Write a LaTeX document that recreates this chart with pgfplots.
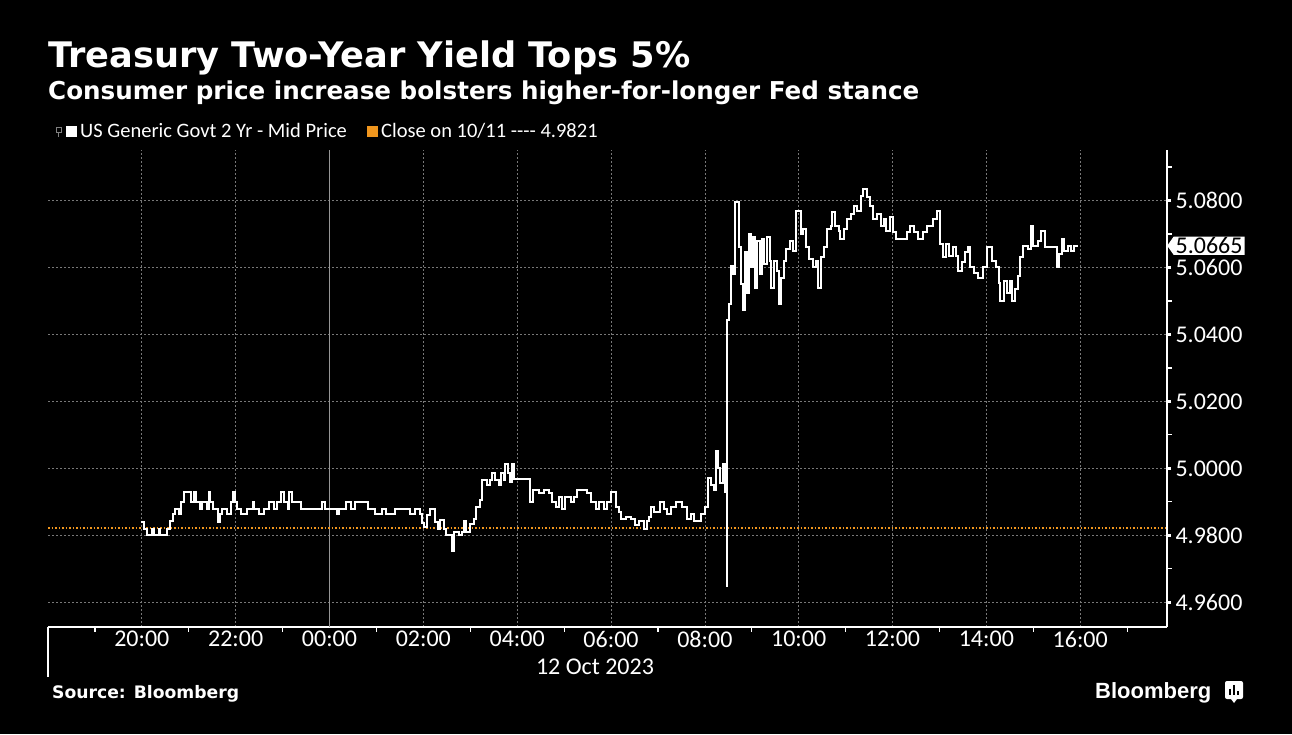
\documentclass[border=0pt]{standalone}
\usepackage{fontspec}
\usepackage{pgfplots}
\pgfplotsset{compat=1.18}
\usetikzlibrary{shapes.symbols}
\setmainfont{Carlito}
\newfontfamily\titlefont{DejaVu Sans}
\newfontfamily\logofont{Liberation Sans}
\definecolor{bborange}{RGB}{240,150,30}
\definecolor{gridgray}{RGB}{120,120,120}
\definecolor{midgray}{RGB}{150,150,150}

\pgfplotstableread{
h v
-4.02 4.9840
-3.95 4.9820
-3.89 4.9800
-3.79 4.9820
-3.75 4.9800
-3.64 4.9820
-3.61 4.9800
-3.46 4.9820
-3.41 4.9843
-3.34 4.9863
-3.29 4.9880
-3.21 4.9863
-3.16 4.9900
-3.11 4.9928
-2.96 4.9900
-2.89 4.9928
-2.84 4.9900
-2.75 4.9880
-2.71 4.9900
-2.61 4.9880
-2.57 4.9928
-2.54 4.9900
-2.48 4.9880
-2.38 4.9840
-2.34 4.9865
-2.29 4.9880
-2.19 4.9865
-2.11 4.9900
-2.05 4.9928
-2.01 4.9900
-1.98 4.9880
-1.89 4.9865
-1.75 4.9880
-1.64 4.9900
-1.61 4.9880
-1.50 4.9865
-1.39 4.9880
-1.29 4.9900
-1.18 4.9880
-1.11 4.9900
-1.04 4.9928
-0.98 4.9900
-0.89 4.9880
-0.86 4.9928
-0.81 4.9900
-0.61 4.9880
-0.16 4.9900
-0.09 4.9880
0.16 4.9865
0.21 4.9880
0.36 4.9900
0.46 4.9880
0.54 4.9900
0.82 4.9880
0.96 4.9865
1.11 4.9880
1.21 4.9865
1.39 4.9880
1.71 4.9865
1.82 4.9880
1.93 4.9865
1.98 4.9838
2.02 4.9825
2.07 4.9860
2.14 4.9880
2.25 4.9840
2.31 4.9820
2.36 4.9845
2.43 4.9820
2.48 4.9800
2.61 4.9753
2.65 4.9810
2.75 4.9800
2.83 4.9810
2.86 4.9843
2.90 4.9810
3.00 4.9835
3.07 4.9850
3.13 4.9883
3.20 4.9905
3.25 4.9965
3.36 4.9950
3.43 4.9965
3.47 4.9985
3.52 4.9965
3.61 4.9950
3.66 4.9985
3.72 4.9965
3.75 5.0013
3.80 4.9985
3.84 4.9960
3.89 5.0013
3.94 4.9968
4.28 4.9900
4.34 4.9935
4.46 4.9925
4.57 4.9935
4.68 4.9925
4.75 4.9900
4.82 4.9885
4.89 4.9915
4.96 4.9880
5.01 4.9915
5.14 4.9900
5.21 4.9915
5.27 4.9935
5.49 4.9925
5.57 4.9900
5.67 4.9880
5.74 4.9900
5.85 4.9880
5.92 4.9900
6.01 4.9928
6.10 4.9883
6.17 4.9870
6.22 4.9850
6.31 4.9855
6.42 4.9850
6.51 4.9830
6.60 4.9843
6.70 4.9820
6.76 4.9843
6.81 4.9855
6.85 4.9883
6.92 4.9870
7.05 4.9900
7.13 4.9880
7.20 4.9865
7.27 4.9883
7.38 4.9900
7.52 4.9883
7.62 4.9850
7.70 4.9865
7.77 4.9843
7.91 4.9865
8.00 4.9883
8.06 4.9970
8.13 4.9950
8.19 4.9935
8.24 5.0053
8.28 5.0000
8.33 4.9955
8.38 5.0013
8.43 4.9930
8.47 4.9648
8.48 5.0444
8.52 5.0490
8.55 5.0605
8.59 5.0580
8.64 5.0795
8.73 5.0660
8.78 5.0550
8.81 5.0474
8.85 5.0645
8.89 5.0525
8.94 5.0700
8.99 5.0600
9.03 5.0690
9.07 5.0540
9.12 5.0680
9.17 5.0580
9.22 5.0685
9.27 5.0610
9.33 5.0690
9.38 5.0620
9.42 5.0540
9.48 5.0620
9.54 5.0590
9.58 5.0490
9.63 5.0570
9.68 5.0620
9.74 5.0655
9.81 5.0680
9.88 5.0650
9.94 5.0770
10.04 5.0700
10.09 5.0715
10.16 5.0660
10.23 5.0625
10.30 5.0600
10.37 5.0620
10.42 5.0540
10.47 5.0630
10.54 5.0660
10.61 5.0715
10.68 5.0725
10.72 5.0765
10.78 5.0725
10.85 5.0710
10.89 5.0685
10.97 5.0715
11.04 5.0745
11.11 5.0760
11.18 5.0785
11.25 5.0770
11.32 5.0815
11.38 5.0835
11.45 5.0810
11.52 5.0785
11.58 5.0745
11.66 5.0760
11.75 5.0725
11.82 5.0745
11.87 5.0710
11.94 5.0750
12.00 5.0705
12.08 5.0685
12.30 5.0705
12.38 5.0725
12.45 5.0705
12.54 5.0685
12.65 5.0705
12.73 5.0725
12.86 5.0745
12.95 5.0770
13.01 5.0670
13.08 5.0630
13.15 5.0670
13.21 5.0635
13.28 5.0660
13.35 5.0635
13.40 5.0590
13.47 5.0615
13.54 5.0645
13.61 5.0660
13.66 5.0600
13.73 5.0585
13.82 5.0570
13.93 5.0600
14.01 5.0660
14.11 5.0620
14.21 5.0600
14.27 5.0555
14.30 5.0500
14.37 5.0560
14.44 5.0525
14.51 5.0560
14.55 5.0500
14.61 5.0535
14.67 5.0575
14.72 5.0630
14.78 5.0665
14.88 5.0655
14.95 5.0725
15.00 5.0665
15.10 5.0680
15.17 5.0710
15.24 5.0660
15.34 5.0660
15.47 5.0660
15.50 5.0600
15.54 5.0640
15.61 5.0685
15.66 5.0650
15.73 5.0665
15.80 5.0650
15.87 5.0665
15.96 5.0665
}\yielddata

\begin{document}
\begin{tikzpicture}
\fill[black] (0pt,0pt) rectangle (1292pt,734pt);

% titles
\node[anchor=base west, inner sep=0, text=white, font=\titlefont\bfseries\fontsize{35.2}{42}\selectfont] at (48pt,666pt) {Treasury Two-Year Yield Tops 5\%};
\node[anchor=base west, inner sep=0, text=white, font=\titlefont\bfseries\fontsize{24.6}{29}\selectfont] at (48pt,634pt) {Consumer price increase bolsters higher-for-longer Fed stance};

% legend
\draw[gray, line width=0.8pt] (56pt,602pt) rectangle (61pt,607pt);
\draw[gray, line width=0.8pt] (58.5pt,602pt) -- (58.5pt,597pt);
\fill[white] (66pt,597pt) rectangle (77pt,608pt);
\node[anchor=base west, inner sep=0, text=white, font=\fontsize{20.5}{24}\selectfont] at (80pt,596pt) {US Generic Govt 2 Yr - Mid Price};
\fill[bborange] (367pt,597pt) rectangle (378pt,608pt);
\node[anchor=base west, inner sep=0, text=white, font=\fontsize{20.5}{24}\selectfont] at (381pt,596pt) {Close on 10/11 {-}{-}{-}{-} 4.9821};

\begin{axis}[
  at={(48pt,107pt)}, anchor=south west,
  width=1119pt, height=477pt, scale only axis,
  xmin=-6, xmax=17.85, ymin=4.9526, ymax=5.0951,
  axis x line*=bottom, axis y line*=right,
  axis line style={white, line width=1.2pt},
  xtick={-4,-2,0,2,4,6,8,10,12,14,16},
  xticklabels={20:00,22:00,00:00,02:00,04:00,06:00,08:00,10:00,12:00,14:00,16:00},
  minor xtick={-5,-3,-1,1,3,5,7,9,11,13,15,17},
  ytick={4.96,4.98,5.00,5.02,5.04,5.06,5.08},
  minor ytick={4.97,4.99,5.01,5.03,5.05,5.07,5.09},
  tick align=outside,
  major tick length=4pt, minor tick length=4.5pt,
  major x tick style={draw=none},
  major y tick style={white, line width=3pt},
  minor tick style={white, line width=1.2pt},
  xmajorgrids, ymajorgrids,
  major grid style={gridgray, line width=0.7pt, dash pattern=on 2pt off 2pt},
  ticklabel style={text=white, font=\fontsize{24}{28}\selectfont},
  yticklabel style={anchor=west, xshift=1pt, /pgf/number format/.cd, fixed, fixed zerofill, precision=4, assume math mode=true},
  xticklabel style={inner ysep=1pt, yshift=1pt},
  clip=false,
]
\addplot[midgray, line width=1pt] coordinates {(0,4.9526) (0,5.0951)};
\addplot[bborange, line width=2pt, dash pattern=on 1.5pt off 2pt] coordinates {(-6,4.9821) (17.85,4.9821)};
\addplot[const plot, white, line width=2pt] table[x=h, y=v] {\yielddata};
\addplot[white, line width=1.2pt] coordinates {(-6,4.9526) (-6,4.9377)};
\node[signal, signal to=west, signal pointer angle=110, fill=white, text=black, inner xsep=2pt, inner ysep=1pt, anchor=west, font=\fontsize{24}{28}\selectfont] at (axis cs:17.85,5.0665) {5.0665};
\end{axis}

\node[anchor=base, inner sep=0, text=white, font=\fontsize{24}{28}\selectfont] at (595pt,60pt) {12 Oct 2023};
\node[anchor=base west, inner sep=0, text=white, font=\titlefont\bfseries\fontsize{17.2}{20}\selectfont] at (52pt,36pt) {Source: Bloomberg};
\node[anchor=base west, inner sep=0, text=white, font=\logofont\bfseries\fontsize{22}{26}\selectfont] at (1095pt,36pt) {Bloomberg};
\fill[white, rounded corners=2pt] (1225pt,35pt) rectangle (1243pt,53pt);
\fill[white] (1231pt,35pt) -- (1234pt,31pt) -- (1237pt,35pt) -- cycle;
\fill[black] (1229pt,39pt) rectangle (1231pt,45pt);
\fill[black] (1233pt,39pt) rectangle (1235pt,49pt);
\fill[black] (1237pt,39pt) rectangle (1239pt,43pt);
\end{tikzpicture}
\end{document}
